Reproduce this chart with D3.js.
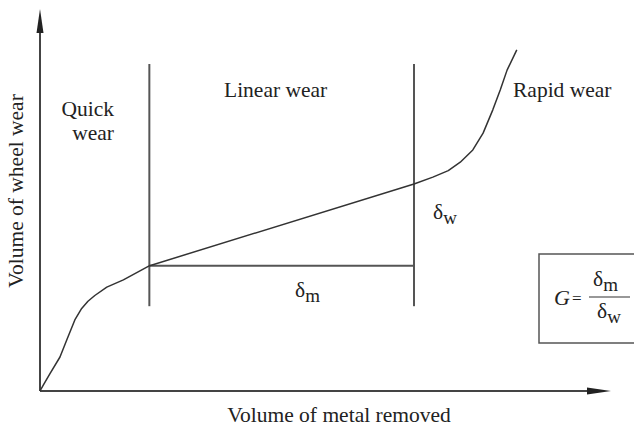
<!DOCTYPE html>
<html>
<head>
<meta charset="utf-8">
<script src="https://cdn.jsdelivr.net/npm/d3@7"></script>
<style>
  body { margin: 0; background: #fff; }
  svg text { font-family: "Liberation Serif", "Times New Roman", "DejaVu Serif", serif; fill: #222; }
</style>
</head>
<body>
<svg id="chart" width="634" height="427"></svg>
<script>
// wear curve (metal removed vs wheel wear, 0..100 units)
var metalRemoved = [0, 0.6, 1.8, 3.5, 4.7, 6.1, 7.3, 8.4, 9.6, 11.7, 14.6, 19.2, 65.5, 68.8, 71.5, 73.6, 75.8, 77.6, 79.3, 80.6, 81.8, 83.5];
var wheelWear    = [0, 1.6, 4.7, 8.9, 13.4, 18.6, 21.6, 23.5, 25.0, 27.2, 29.1, 32.8, 54.2, 56.0, 57.7, 59.9, 63.1, 67.5, 73.6, 78.8, 84.0, 89.3];

// stage boundaries
var stageBounds = [19.15, 65.5];
var stageTop = 85.6, stageBottom = 22.2;
var stageLevel = 32.8;   // horizontal delta_m line
var stageNames = ["Quick", "wear", "Linear wear", "Rapid wear"];
var axisTitles = ["Volume of metal removed", "Volume of wheel wear"];

function render_chart()
{
    let svg = d3.select("#chart");
    let ink = "#333", rule = "#555";

    let x = d3.scaleLinear().domain([0, 100]).range([40, 611]);
    let y = d3.scaleLinear().domain([0, 100]).range([391, 9]);

    // axes
    svg.append("line")
        .attr("x1", x(0)).attr("y1", y(0))
        .attr("x2", x(100) - 20).attr("y2", y(0))
        .attr("stroke", "#444").attr("stroke-width", 2);
    svg.append("line")
        .attr("x1", x(0)).attr("y1", y(0))
        .attr("x2", x(0)).attr("y2", y(100) + 20)
        .attr("stroke", "#444").attr("stroke-width", 2);

    // arrow heads
    svg.append("path")
        .attr("d", `M${x(100)},${y(0)} L${x(100) - 24},${y(0) - 3.5} L${x(100) - 24},${y(0) + 3.5} Z`)
        .attr("fill", "#222");
    svg.append("path")
        .attr("d", `M${x(0)},${y(100)} L${x(0) - 3.5},${y(100) + 24} L${x(0) + 3.5},${y(100) + 24} Z`)
        .attr("fill", "#222");

    // stage lines
    svg.selectAll(".stage")
        .data(stageBounds)
        .enter()
        .append("line")
            .attr("class", "stage")
            .attr("x1", d => x(d)).attr("x2", d => x(d))
            .attr("y1", y(stageTop)).attr("y2", y(stageBottom))
            .attr("stroke", rule).attr("stroke-width", 2);

    svg.append("line")
        .attr("x1", x(stageBounds[0])).attr("x2", x(stageBounds[1]))
        .attr("y1", y(stageLevel)).attr("y2", y(stageLevel))
        .attr("stroke", rule).attr("stroke-width", 2);

    // wear curve
    let pts = metalRemoved.map((m, i) => [m, wheelWear[i]]);
    let line = d3.line()
        .x(d => x(d[0]))
        .y(d => y(d[1]))
        .curve(d3.curveLinear);
    svg.append("path")
        .attr("d", line(pts))
        .attr("fill", "none")
        .attr("stroke", ink)
        .attr("stroke-width", 1.5)
        .attr("stroke-linejoin", "round");

    let fs = 21.5;

    // stage labels
    svg.append("text").attr("x", 114).attr("y", 116).attr("text-anchor", "end")
        .style("font-size", fs + "px").text(stageNames[0]);
    svg.append("text").attr("x", 114).attr("y", 140).attr("text-anchor", "end")
        .style("font-size", fs + "px").text(stageNames[1]);
    svg.append("text").attr("x", 224).attr("y", 97)
        .style("font-size", fs + "px").text(stageNames[2]);
    svg.append("text").attr("x", 513).attr("y", 97)
        .style("font-size", fs + "px").text(stageNames[3]);

    // axis titles
    svg.append("text").attr("x", 339).attr("y", 422).attr("text-anchor", "middle")
        .style("font-size", fs + "px").text(axisTitles[0]);
    svg.append("text").attr("text-anchor", "middle")
        .attr("transform", "translate(23,191) rotate(-90)")
        .style("font-size", fs + "px").text(axisTitles[1]);

    // deltas
    function delta(px, py, sub) {
        let t = svg.append("text").attr("x", px).attr("y", py).style("font-size", fs + "px");
        t.append("tspan").text("\u03b4");
        t.append("tspan").attr("dy", 5).style("font-size", "19px").text(sub);
        return t;
    }
    delta(433, 219, "w");
    delta(295, 297, "m");

    // G = dm / dw box
    svg.append("rect")
        .attr("x", 539).attr("y", 254)
        .attr("width", 140).attr("height", 89)
        .attr("fill", "none").attr("stroke", rule).attr("stroke-width", 1.5);
    svg.append("text").attr("x", 554).attr("y", 305)
        .style("font-size", "22px").style("font-style", "italic").text("G");
    svg.append("text").attr("x", 572).attr("y", 304)
        .style("font-size", "17px").text("=");
    svg.append("line")
        .attr("x1", 589).attr("x2", 630).attr("y1", 297).attr("y2", 297)
        .attr("stroke", ink).attr("stroke-width", 1.2);
    delta(593, 286, "m");
    delta(597, 318, "w");
}

render_chart();
</script>
</body>
</html>
